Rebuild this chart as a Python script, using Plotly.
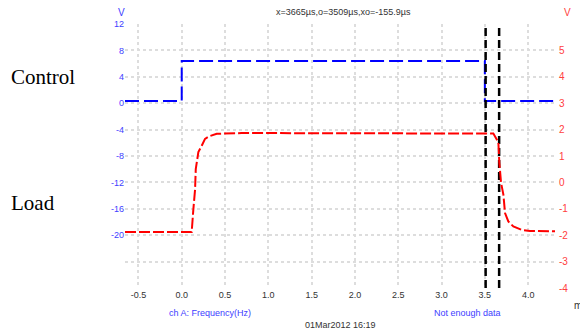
import plotly.graph_objects as go

# ---- data ----
control_t = [-0.655, 0.0, 0.0, 3.50, 3.50, 4.31]
control_v = [0.35, 0.35, 6.4, 6.4, 0.35, 0.35]

load_t = [-0.655, 0.115, 0.134, 0.154, 0.162, 0.192, 0.231, 0.269, 0.319, 0.404, 0.693,
          1.5, 2.5, 3.598, 3.656, 3.667, 3.687, 3.714, 3.733, 3.771, 3.829, 3.926, 4.02, 4.31]
load_v = [-1.88, -1.88, -1.03, -0.27, 0.50, 1.15, 1.39, 1.65, 1.75, 1.84, 1.87,
          1.87, 1.86, 1.85, 1.52, 0.75, -0.01, -0.46, -1.16, -1.48, -1.67, -1.80, -1.84, -1.85]

cursors = [3.509, 3.665]

x_ticks = [-0.5, 0.0, 0.5, 1.0, 1.5, 2.0, 2.5, 3.0, 3.5, 4.0]
x_ticktext = ["-0.5", "0.0", "0.5", "1.0", "1.5", "2.0", "2.5", "3.0", "3.5", "4.0"]
yl_ticks = [12, 8, 4, 0, -4, -8, -12, -16, -20, -24, -28]
yl_text = ["12", "8", "4", "0", "-4", "-8", "-12", "-16", "-20", "", ""]
yr_ticks = [5, 4, 3, 2, 1, 0, -1, -2, -3, -4]
yr_text = ["5", "4", "3", "2", "1", "0", "-1", "-2", "-3", "-4"]

title_text = "x=3665µs,o=3509µs,xo=-155.9µs"

BLUE = "#0000ff"
RED = "#ff0000"
BLUE_T = "#4040ff"
RED_T = "#ff4040"
FONT = "Liberation Sans"

W, H = 580, 331
L, R, T, B = 125, 555, 24, 288


def px(x):
    return (x - L) / (R - L)


def py(y):
    return (B - y) / (B - T)


fig = go.Figure()
fig.add_trace(go.Scatter(x=control_t, y=control_v, mode="lines", yaxis="y",
                         line=dict(color=BLUE, width=2, dash="14px,5px"), showlegend=False))
fig.add_trace(go.Scatter(x=load_t, y=load_v, mode="lines", yaxis="y2",
                         line=dict(color=RED, width=2, dash="11px,3px"), showlegend=False))
for c in cursors:
    fig.add_trace(go.Scatter(x=[c, c], y=[-28, 12], mode="lines", yaxis="y",
                             line=dict(color="black", width=2.5, dash="8px,4px"), showlegend=False))

grid = dict(showgrid=True, gridcolor="#dddddd", gridwidth=2, griddash="dot", zeroline=False,
            showline=False, ticks="")

fig.update_layout(
    width=W, height=H,
    margin=dict(l=L, r=W - R, t=T, b=H - B),
    paper_bgcolor="white", plot_bgcolor="white",
    font=dict(family=FONT, size=9, color="#333333"),
    xaxis=dict(range=[-0.655, 4.31], tickvals=x_ticks, ticktext=x_ticktext,
               tickfont=dict(size=9, color="#333333"), **grid),
    yaxis=dict(range=[-28, 12], tickvals=yl_ticks, ticktext=yl_text,
               tickfont=dict(size=9, color=BLUE_T), ticklabelstandoff=0, **grid),
    yaxis2=dict(range=[-4, 6], tickvals=yr_ticks, ticktext=yr_text, overlaying="y", side="right",
                showgrid=False, zeroline=False, showline=False, ticks="",
                tickfont=dict(size=10, color=RED_T), ticklabelstandoff=3),
)

ann = [
    dict(text="V", x=px(121), y=py(12), color=BLUE_T, size=10, xanchor="center"),
    dict(text="V", x=px(567), y=py(12), color=RED_T, size=10, xanchor="center"),
    dict(text=title_text, x=px(343), y=py(12), color="#333333", size=9, xanchor="center"),
    dict(text="ms", x=px(572), y=py(305), color="#333333", size=10, xanchor="left"),
    dict(text="ch A: Frequency(Hz)", x=px(210), y=py(313), color=BLUE_T, size=9, xanchor="center"),
    dict(text="Not enough data", x=px(467), y=py(313), color=BLUE_T, size=9, xanchor="center"),
    dict(text="01Mar2012 16:19", x=px(340), y=py(325), color="#333333", size=9, xanchor="center"),
]
for a in ann:
    fig.add_annotation(text=a["text"], xref="paper", yref="paper", x=a["x"], y=a["y"],
                       xanchor=a["xanchor"], yanchor="middle", showarrow=False,
                       font=dict(family=FONT, size=a["size"], color=a["color"]))

for label, yy in [("Control", 77), ("Load", 203)]:
    fig.add_annotation(text=label, xref="paper", yref="paper", x=px(9), y=py(yy),
                       xanchor="left", yanchor="middle", showarrow=False,
                       font=dict(family="Liberation Serif", size=21, color="black"))

fig.write_html("out.html", config={"displayModeBar": False},
               post_script="document.body.style.margin='0';document.body.style.overflow='hidden';")
